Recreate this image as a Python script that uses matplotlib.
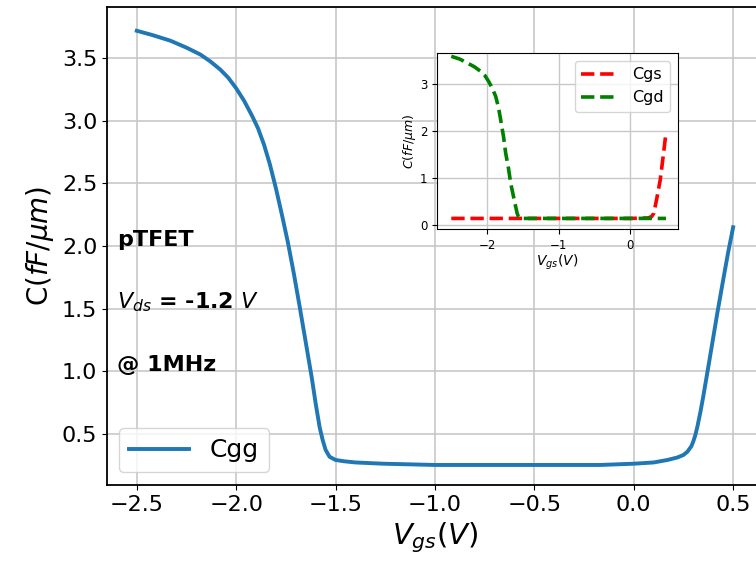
import matplotlib
matplotlib.use("Agg")
import matplotlib.pyplot as plt

# Cgg main curve
vgs_cgg = [-2.5, -2.42, -2.33, -2.25, -2.18, -2.13, -2.08, -2.04, -2.0, -1.96, -1.92,
           -1.89, -1.86, -1.83, -1.80, -1.77, -1.74, -1.71, -1.68, -1.65, -1.62,
           -1.60, -1.58, -1.565, -1.55, -1.53, -1.50, -1.46, -1.40,
           -1.26, -1.0, -0.5, -0.17, 0.0, 0.10, 0.17, 0.22, 0.25, 0.27, 0.29, 0.30,
           0.31, 0.32, 0.335, 0.35, 0.365, 0.38, 0.40, 0.42, 0.45, 0.475, 0.5]
cgg = [3.72, 3.685, 3.64, 3.585, 3.53, 3.475, 3.41, 3.345, 3.26, 3.16, 3.04,
       2.94, 2.81, 2.65, 2.46, 2.25, 2.03, 1.78, 1.51, 1.23, 0.95,
       0.74, 0.55, 0.45, 0.37, 0.315, 0.29, 0.28, 0.27,
       0.26, 0.25, 0.25, 0.25, 0.26, 0.27, 0.29, 0.31, 0.33, 0.356, 0.40, 0.44,
       0.49, 0.555, 0.67, 0.80, 0.94, 1.08, 1.27, 1.46, 1.73, 1.95, 2.15]

# inset: Cgs and Cgd
vgs_cgs = [-2.5, -1.5, -0.5, 0.0, 0.25, 0.30, 0.33, 0.37, 0.42, 0.46, 0.5]
cgs = [0.14, 0.14, 0.14, 0.14, 0.15, 0.18, 0.25, 0.55, 0.96, 1.45, 1.96]

vgs_cgd = [-2.5, -2.38, -2.28, -2.18, -2.09, -2.03, -1.98, -1.93, -1.88, -1.84, -1.81,
           -1.77, -1.74, -1.70, -1.67, -1.63, -1.60, -1.58, -1.56, -1.54,
           -1.0, 0.0, 0.5]
cgd = [3.59, 3.53, 3.45, 3.37, 3.27, 3.18, 3.06, 2.92, 2.74, 2.50, 2.24,
       1.88, 1.53, 1.20, 0.89, 0.60, 0.39, 0.25, 0.17, 0.14,
       0.14, 0.14, 0.14]

fig = plt.figure(figsize=(7.56, 5.64), dpi=100)
ax = fig.add_axes([0.1415, 0.1401, 0.8677, 0.8475])
ax.plot(vgs_cgg, cgg, color="#1f77b4", lw=2.8, label="Cgg")
ax.set_xlim(-2.65, 0.65)
ax.set_ylim(0.09, 3.91)
ax.set_xticks([-2.5, -2.0, -1.5, -1.0, -0.5, 0.0, 0.5])
ax.set_yticks([0.5, 1.0, 1.5, 2.0, 2.5, 3.0, 3.5])
ax.tick_params(labelsize=16)
ax.grid(True, color="#c8c8c8", lw=1.2)
ax.set_xlabel("$V_{gs}(V)$", fontsize=21)
ax.set_ylabel("C($fF/\\mu m$)", fontsize=20)
for s in ax.spines.values():
    s.set_linewidth(1.3)
ax.text(-2.6, 2.0, "pTFET", fontsize=16, fontweight="bold", va="baseline")
ax.text(-2.6, 1.5, "$V_{ds}$ = -1.2 $V$", fontsize=16, fontweight="bold", va="baseline")
ax.text(-2.6, 1.0, "@ 1MHz", fontsize=16, fontweight="bold", va="baseline")
ax.legend(loc="lower left", fontsize=18, handlelength=2.4)

ins = fig.add_axes([0.578, 0.594, 0.319, 0.312])
ins.plot(vgs_cgs, cgs, "r--", lw=2.6, label="Cgs")
ins.plot(vgs_cgd, cgd, "g--", lw=2.6, label="Cgd")
ins.set_xlim(-2.7, 0.67)
ins.set_ylim(-0.085, 3.66)
ins.set_xticks([-2, -1, 0])
ins.set_yticks([0, 1, 2, 3])
ins.tick_params(labelsize=8.5)
ins.grid(True, color="#c8c8c8", lw=1.0)
ins.set_xlabel("$V_{gs}(V)$", fontsize=10, labelpad=1)
ins.set_ylabel("$C(fF/\\mu m)$", fontsize=9, labelpad=1)
ins.legend(loc="upper right", fontsize=11.5, handlelength=2.4)

fig.savefig("out.png", dpi=100)
